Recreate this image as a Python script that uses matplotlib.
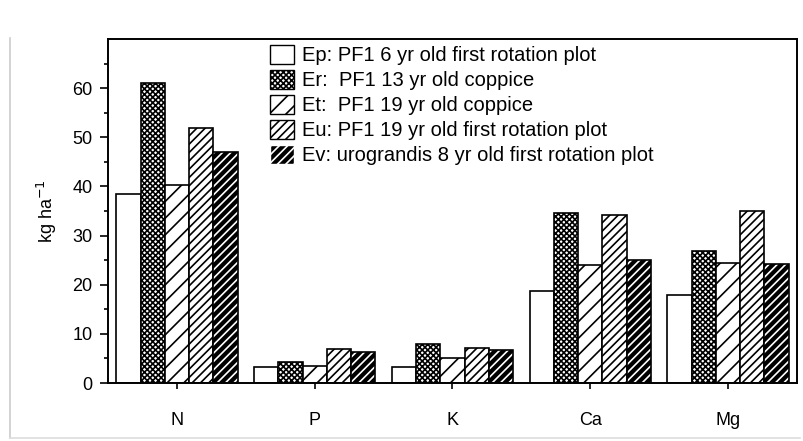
import numpy as np
import matplotlib.pyplot as plt
from matplotlib.patches import Patch
from matplotlib.lines import Line2D

plt.rcParams['font.family'] = ['Liberation Sans', 'DejaVu Sans']
plt.rcParams['hatch.linewidth'] = 1.2

# ----------------------------------------------------------------------
# Data
# ----------------------------------------------------------------------
nutrients = ["N", "P", "K", "Ca", "Mg"]
labels = [
    "Ep: PF1 6 yr old first rotation plot",
    "Er:  PF1 13 yr old coppice",
    "Et:  PF1 19 yr old coppice",
    "Eu: PF1 19 yr old first rotation plot",
    "Ev: urograndis 8 yr old first rotation plot",
]
ep = [38.5, 3.2, 3.2, 18.8, 18.0]
er = [61.0, 4.2, 7.9, 34.6, 26.8]
et = [40.3, 3.5, 5.1, 24.0, 24.5]
eu = [51.8, 6.9, 7.1, 34.2, 35.1]
ev = [47.0, 6.4, 6.7, 25.0, 24.2]

series = [ep, er, et, eu, ev]
# (facecolor, hatch, hatchcolor)
styles = [
    ("white", None, "black"),
    ("white", "xxxxxx", "black"),
    ("white", "//", "black"),
    ("white", "////", "black"),
    ("black", "////", "white"),
]

# ----------------------------------------------------------------------
# Plot
# ----------------------------------------------------------------------
fig = plt.figure(figsize=(8.04, 4.41), dpi=100)
ax = fig.add_axes([108 / 804, 1 - 383 / 441, (797 - 108) / 804, (383 - 39) / 441])

x = np.arange(len(nutrients))
width = 0.176
offsets = (np.arange(len(series)) - 2) * width

handles = []
for vals, off, (fc, hatch, hc), lab in zip(series, offsets, styles, labels):
    ax.bar(x + off, vals, width, color=fc, edgecolor=hc, hatch=hatch, linewidth=0)
    ax.bar(x + off, vals, width, facecolor="none", edgecolor="black", linewidth=1.2)
    handles.append(Patch(facecolor=fc, edgecolor=hc, hatch=hatch, label=lab))

ax.set_xlim(-0.5, 4.5)
ax.set_ylim(0, 70)
ax.set_xticks(x)
ax.set_xticklabels(nutrients, fontsize=13)
ax.set_yticks([0, 10, 20, 30, 40, 50, 60])
ax.set_yticks(np.arange(5, 70, 10), minor=True)
ax.tick_params(axis="both", labelsize=13, width=1.2)
ax.tick_params(axis="x", length=4, pad=17)
ax.tick_params(axis="y", which="major", length=6, pad=5)
ax.tick_params(axis="y", which="minor", length=3, width=1.2)
for s in ax.spines.values():
    s.set_linewidth(1.4)

ax.set_ylabel("kg ha$^{-1}$", fontsize=13, labelpad=10)

leg = ax.legend(handles=handles, loc="upper left", bbox_to_anchor=(0.212, 1.03),
                frameon=False, fontsize=14.5, handlelength=1.2, handleheight=1.1,
                handletextpad=0.4, labelspacing=0.22, borderaxespad=0.4)
for h in leg.legend_handles:
    h.set_linewidth(1.0)

# faint frame of the scanned figure
fig.add_artist(Line2D([10 / 804, 10 / 804], [3 / 441, 1 - 38 / 441],
                      color="#cccccc", lw=1.2))
fig.add_artist(Line2D([10 / 804, 800 / 804], [3 / 441, 3 / 441],
                      color="#dddddd", lw=1.2))

fig.savefig("out.png", dpi=100)
